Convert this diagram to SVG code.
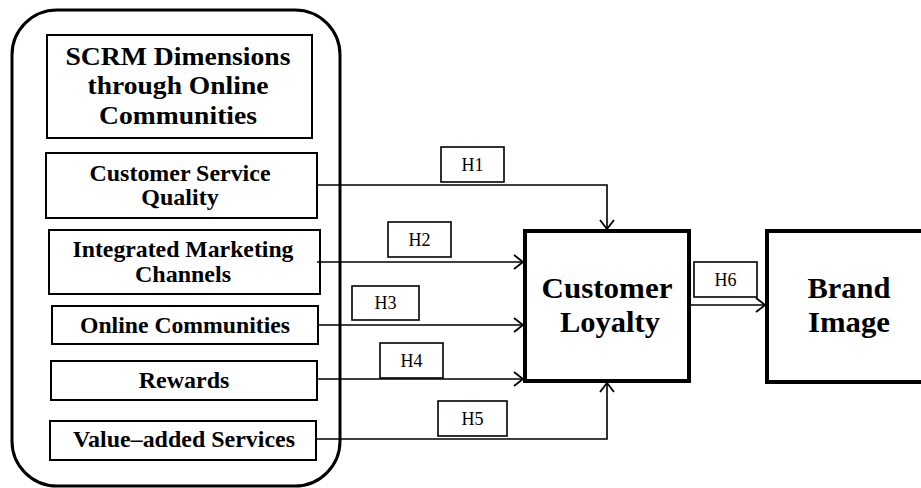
<svg xmlns="http://www.w3.org/2000/svg" width="921" height="488" viewBox="0 0 921 488">
  <style>
    .box { fill: #fff; stroke: #000; stroke-width: 2; }
    .big { fill: #fff; stroke: #000; stroke-width: 4; }
    .hbox { fill: #fff; stroke: #000; stroke-width: 1.6; }
    .lbl { font-family: "Liberation Serif", "Times New Roman", serif; font-weight: bold; font-size: 24px; fill: #000; text-anchor: middle; }
    .ttl { font-family: "Liberation Serif", "Times New Roman", serif; font-weight: bold; font-size: 26px; fill: #000; text-anchor: middle; }
    .key { font-family: "Liberation Serif", "Times New Roman", serif; font-weight: bold; font-size: 30px; fill: #000; text-anchor: middle; }
    .h { font-family: "Liberation Serif", "Times New Roman", serif; font-size: 18px; fill: #000; text-anchor: middle; }
    .wire { fill: none; stroke: #000; stroke-width: 1.6; }
  </style>
  <defs>
    <marker id="open" markerUnits="userSpaceOnUse" markerWidth="14" markerHeight="18" refX="10" refY="8" orient="auto" overflow="visible">
      <path d="M1,1 L10,8 L1,15" fill="none" stroke="#000" stroke-width="1.8"/>
    </marker>
  </defs>

  <rect width="921" height="488" fill="#fff"/>

  <!-- SCRM dimensions container -->
  <g id="scrm-group">
    <rect x="12" y="10" width="328" height="476" rx="45" ry="45" fill="#fff" stroke="#000" stroke-width="3"/>
  </g>

  <g id="scrm-title">
    <rect class="box" x="47" y="35" width="265" height="103"/>
    <text class="ttl" x="178" y="65" textLength="225" lengthAdjust="spacingAndGlyphs">SCRM Dimensions</text>
    <text class="ttl" x="178" y="94" textLength="181" lengthAdjust="spacingAndGlyphs">through Online</text>
    <text class="ttl" x="178" y="124" textLength="158" lengthAdjust="spacingAndGlyphs">Communities</text>
  </g>

  <g id="customer-service-quality">
    <rect class="box" x="46" y="153" width="271" height="65"/>
    <text class="lbl" x="180" y="181" textLength="181" lengthAdjust="spacingAndGlyphs">Customer Service</text>
    <text class="lbl" x="180" y="205">Quality</text>
  </g>

  <g id="integrated-marketing-channels">
    <rect class="box" x="49" y="230" width="271" height="64"/>
    <text class="lbl" x="183" y="257" textLength="221" lengthAdjust="spacingAndGlyphs">Integrated Marketing</text>
    <text class="lbl" x="183" y="282">Channels</text>
  </g>

  <g id="online-communities">
    <rect class="box" x="52" y="306" width="266" height="38"/>
    <text class="lbl" x="185" y="333" textLength="210" lengthAdjust="spacingAndGlyphs">Online Communities</text>
  </g>

  <g id="rewards">
    <rect class="box" x="51" y="361" width="266" height="39"/>
    <text class="lbl" x="184" y="388">Rewards</text>
  </g>

  <g id="value-added-services">
    <rect class="box" x="50" y="421" width="266" height="39"/>
    <text class="lbl" x="184" y="447" textLength="222" lengthAdjust="spacingAndGlyphs">Value–added Services</text>
  </g>

  <g id="customer-loyalty">
    <rect class="big" x="525" y="231" width="164" height="150"/>
    <text class="key" x="607" y="298" textLength="131" lengthAdjust="spacingAndGlyphs">Customer</text>
    <text class="key" x="610" y="332" textLength="100" lengthAdjust="spacingAndGlyphs">Loyalty</text>
  </g>

  <g id="brand-image">
    <rect class="big" x="767" y="231" width="170" height="151"/>
    <text class="key" x="849" y="298" textLength="83" lengthAdjust="spacingAndGlyphs">Brand</text>
    <text class="key" x="849" y="332" textLength="82" lengthAdjust="spacingAndGlyphs">Image</text>
  </g>

  <!-- hypothesis paths -->
  <g id="connectors">
    <path class="wire" d="M317,185 H607 V229" marker-end="url(#open)"/>
    <path class="wire" d="M317,262 H523" marker-end="url(#open)"/>
    <path class="wire" d="M318,325 H523" marker-end="url(#open)"/>
    <path class="wire" d="M317,379 H523" marker-end="url(#open)"/>
    <path class="wire" d="M316,439 H607 V383" marker-end="url(#open)"/>
    <path class="wire" d="M689,305 H765" marker-end="url(#open)"/>
  </g>

  <g id="h1">
    <rect class="hbox" x="441" y="147" width="63" height="35"/>
    <text class="h" x="472.5" y="171">H1</text>
  </g>
  <g id="h2">
    <rect class="hbox" x="388" y="222" width="63" height="35"/>
    <text class="h" x="419.5" y="246">H2</text>
  </g>
  <g id="h3">
    <rect class="hbox" x="352" y="286" width="67" height="34"/>
    <text class="h" x="385.5" y="309">H3</text>
  </g>
  <g id="h4">
    <rect class="hbox" x="380" y="343" width="63" height="35"/>
    <text class="h" x="411.5" y="367">H4</text>
  </g>
  <g id="h5">
    <rect class="hbox" x="438" y="401" width="69" height="35"/>
    <text class="h" x="472.5" y="425">H5</text>
  </g>
  <g id="h6">
    <rect class="hbox" x="694" y="262" width="63" height="35"/>
    <text class="h" x="725.5" y="286">H6</text>
  </g>
</svg>
